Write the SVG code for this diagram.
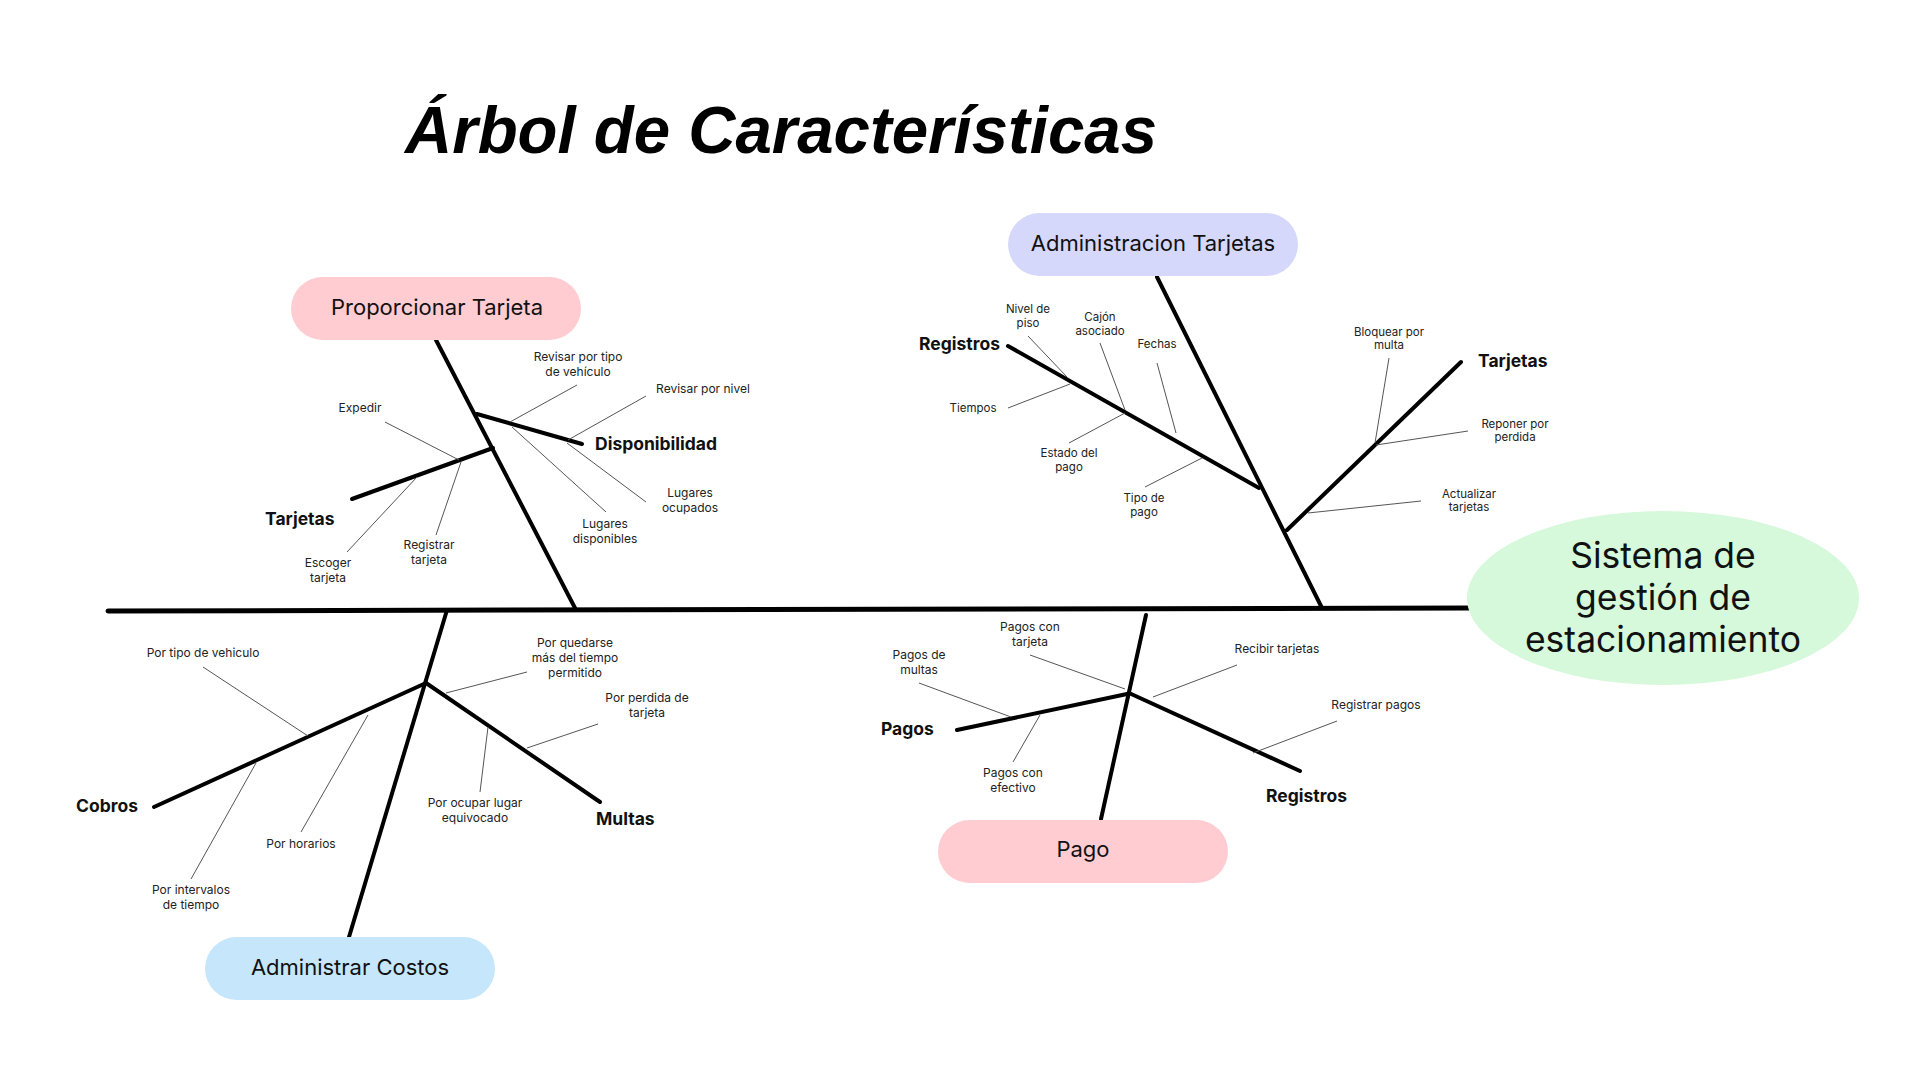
<svg xmlns="http://www.w3.org/2000/svg" width="1920" height="1080" viewBox="0 0 1920 1080">
<style>
  .thick{stroke:#000;stroke-width:4;stroke-linecap:round;fill:none}
  .spine{stroke:#000;stroke-width:5;stroke-linecap:round;fill:none}
  .thin{stroke:#555;stroke-width:1;fill:none}
  .pill-t{font-family:Inter,"Noto Sans",sans-serif;font-size:22px;fill:#111;text-anchor:middle}
  .lbl{font-family:Inter,"Noto Sans",sans-serif;font-size:12px;fill:#222;text-anchor:middle}
  .lbs{font-family:Inter,"Noto Sans",sans-serif;font-size:11.5px;fill:#222;text-anchor:middle}
  .bold{font-family:Inter,"Noto Sans",sans-serif;font-size:17.5px;font-weight:700;fill:#111}
  .title{font-family:"Liberation Sans",Arial,sans-serif;font-size:66px;font-weight:700;font-style:italic;fill:#000}
  .main-t{font-family:Inter,"Noto Sans",sans-serif;font-size:35.5px;fill:#111;text-anchor:middle}
</style>
<rect width="1920" height="1080" fill="#fff"/>
<text class="title" x="405" y="153" textLength="752" lengthAdjust="spacingAndGlyphs">Árbol de Características</text>

<g id="connectors">
  <line class="spine" x1="108" y1="611" x2="1470" y2="608"/>
  <!-- Proporcionar Tarjeta -->
  <line class="thick" x1="436" y1="340" x2="575" y2="608"/>
  <line class="thick" x1="477" y1="414" x2="582" y2="444"/>
  <line class="thick" x1="493" y1="448" x2="352" y2="499"/>
  <line class="thin" x1="577" y1="385" x2="510" y2="422"/>
  <line class="thin" x1="646" y1="396" x2="568" y2="440"/>
  <line class="thin" x1="512" y1="427" x2="606" y2="512"/>
  <line class="thin" x1="567" y1="443" x2="646" y2="502"/>
  <line class="thin" x1="385" y1="422" x2="459" y2="460"/>
  <line class="thin" x1="417" y1="477" x2="347" y2="552"/>
  <line class="thin" x1="461" y1="462" x2="436" y2="535"/>
  <!-- Administracion Tarjetas -->
  <line class="thick" x1="1157" y1="277" x2="1322" y2="608"/>
  <line class="thick" x1="1008" y1="346" x2="1259" y2="488"/>
  <line class="thick" x1="1287" y1="530" x2="1461" y2="362"/>
  <line class="thin" x1="1028" y1="336" x2="1067" y2="377"/>
  <line class="thin" x1="1008" y1="408" x2="1070" y2="384"/>
  <line class="thin" x1="1100" y1="343" x2="1125" y2="410"/>
  <line class="thin" x1="1069" y1="443" x2="1125" y2="413"/>
  <line class="thin" x1="1157" y1="363" x2="1176" y2="433"/>
  <line class="thin" x1="1145" y1="487" x2="1202" y2="458"/>
  <line class="thin" x1="1389" y1="358" x2="1375" y2="443"/>
  <line class="thin" x1="1376" y1="445" x2="1468" y2="431"/>
  <line class="thin" x1="1308" y1="513" x2="1421" y2="501"/>
  <!-- Administrar Costos -->
  <line class="thick" x1="349" y1="937" x2="447" y2="610"/>
  <line class="thick" x1="426" y1="683" x2="154" y2="807"/>
  <line class="thick" x1="426" y1="683" x2="600" y2="802"/>
  <line class="thin" x1="203" y1="667" x2="308" y2="736"/>
  <line class="thin" x1="368" y1="715" x2="301" y2="832"/>
  <line class="thin" x1="256" y1="763" x2="191" y2="879"/>
  <line class="thin" x1="527" y1="672" x2="446" y2="693"/>
  <line class="thin" x1="598" y1="724" x2="527" y2="748"/>
  <line class="thin" x1="488" y1="727" x2="480" y2="792"/>
  <!-- Pago -->
  <line class="thick" x1="1101" y1="819" x2="1146" y2="615"/>
  <line class="thick" x1="1127" y1="694" x2="957" y2="730"/>
  <line class="thick" x1="1129" y1="693" x2="1300" y2="771"/>
  <line class="thin" x1="1030" y1="655" x2="1125" y2="689"/>
  <line class="thin" x1="919" y1="683" x2="1011" y2="717"/>
  <line class="thin" x1="1040" y1="715" x2="1013" y2="762"/>
  <line class="thin" x1="1237" y1="665" x2="1153" y2="697"/>
  <line class="thin" x1="1337" y1="721" x2="1253" y2="753"/>
</g>

<g id="node-sistema">
  <ellipse cx="1663" cy="598" rx="196" ry="87" fill="#d5f9da"/>
  <text class="main-t" x="1663" y="568">Sistema de</text>
  <text class="main-t" x="1663" y="610">gestión de</text>
  <text class="main-t" x="1663" y="652">estacionamiento</text>
</g>

<g id="node-proporcionar">
  <rect x="291" y="277" width="290" height="63" rx="31.5" fill="#ffccd1"/>
  <text class="pill-t" x="437" y="315">Proporcionar Tarjeta</text>
</g>
<g id="node-admin-tarjetas">
  <rect x="1008" y="213" width="290" height="63" rx="31.5" fill="#d5d8fb"/>
  <text class="pill-t" x="1153" y="251">Administracion Tarjetas</text>
</g>
<g id="node-admin-costos">
  <rect x="205" y="937" width="290" height="63" rx="31.5" fill="#c6e6fb"/>
  <text class="pill-t" x="350" y="975">Administrar Costos</text>
</g>
<g id="node-pago">
  <rect x="938" y="820" width="290" height="63" rx="31.5" fill="#ffccd1"/>
  <text class="pill-t" x="1083" y="857">Pago</text>
</g>

<g id="labels-proporcionar">
  <text class="bold" x="595" y="450">Disponibilidad</text>
  <text class="bold" x="265" y="525">Tarjetas</text>
  <text class="lbl" x="578" y="361">Revisar por tipo</text>
  <text class="lbl" x="578" y="376">de vehículo</text>
  <text class="lbl" x="703" y="393">Revisar por nivel</text>
  <text class="lbl" x="360" y="412">Expedir</text>
  <text class="lbl" x="690" y="497">Lugares</text>
  <text class="lbl" x="690" y="512">ocupados</text>
  <text class="lbl" x="605" y="528">Lugares</text>
  <text class="lbl" x="605" y="543">disponibles</text>
  <text class="lbl" x="429" y="549">Registrar</text>
  <text class="lbl" x="429" y="564">tarjeta</text>
  <text class="lbl" x="328" y="567">Escoger</text>
  <text class="lbl" x="328" y="582">tarjeta</text>
</g>

<g id="labels-admin-tarjetas">
  <text class="bold" x="919" y="350">Registros</text>
  <text class="bold" x="1478" y="367">Tarjetas</text>
  <text class="lbs" x="1028" y="313">Nivel de</text>
  <text class="lbs" x="1028" y="327">piso</text>
  <text class="lbs" x="1100" y="321">Cajón</text>
  <text class="lbs" x="1100" y="335">asociado</text>
  <text class="lbs" x="1157" y="348">Fechas</text>
  <text class="lbs" x="973" y="412">Tiempos</text>
  <text class="lbs" x="1069" y="457">Estado del</text>
  <text class="lbs" x="1069" y="471">pago</text>
  <text class="lbs" x="1144" y="502">Tipo de</text>
  <text class="lbs" x="1144" y="516">pago</text>
  <text class="lbs" x="1389" y="336">Bloquear por</text>
  <text class="lbs" x="1389" y="349">multa</text>
  <text class="lbs" x="1515" y="428">Reponer por</text>
  <text class="lbs" x="1515" y="441">perdida</text>
  <text class="lbs" x="1469" y="498">Actualizar</text>
  <text class="lbs" x="1469" y="511">tarjetas</text>
</g>

<g id="labels-admin-costos">
  <text class="bold" x="76" y="812">Cobros</text>
  <text class="bold" x="596" y="825">Multas</text>
  <text class="lbl" x="203" y="657">Por tipo de vehiculo</text>
  <text class="lbl" x="575" y="647">Por quedarse</text>
  <text class="lbl" x="575" y="662">más del tiempo</text>
  <text class="lbl" x="575" y="677">permitido</text>
  <text class="lbl" x="647" y="702">Por perdida de</text>
  <text class="lbl" x="647" y="717">tarjeta</text>
  <text class="lbl" x="475" y="807">Por ocupar lugar</text>
  <text class="lbl" x="475" y="822">equivocado</text>
  <text class="lbl" x="301" y="848">Por horarios</text>
  <text class="lbl" x="191" y="894">Por intervalos</text>
  <text class="lbl" x="191" y="909">de tiempo</text>
</g>

<g id="labels-pago">
  <text class="bold" x="881" y="735">Pagos</text>
  <text class="bold" x="1266" y="802">Registros</text>
  <text class="lbl" x="1030" y="631">Pagos con</text>
  <text class="lbl" x="1030" y="646">tarjeta</text>
  <text class="lbl" x="919" y="659">Pagos de</text>
  <text class="lbl" x="919" y="674">multas</text>
  <text class="lbl" x="1013" y="777">Pagos con</text>
  <text class="lbl" x="1013" y="792">efectivo</text>
  <text class="lbl" x="1277" y="653">Recibir tarjetas</text>
  <text class="lbl" x="1376" y="709">Registrar pagos</text>
</g>
</svg>
